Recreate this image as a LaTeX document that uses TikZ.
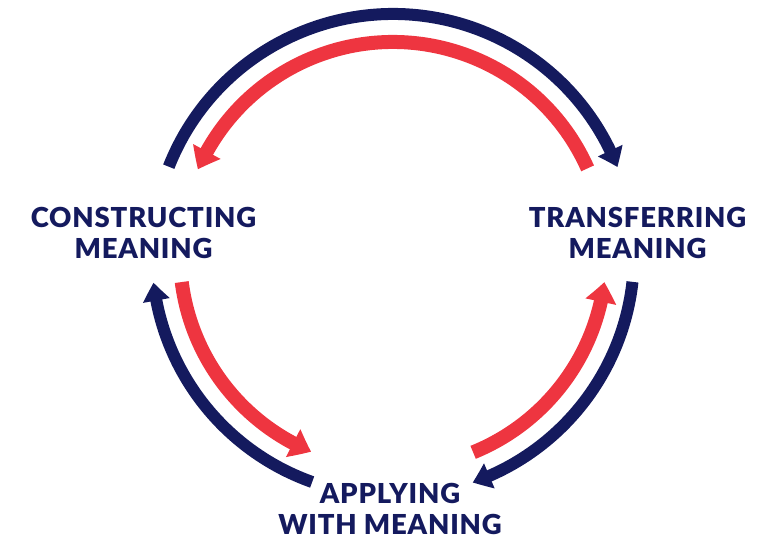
\documentclass[tikz,border=0pt]{standalone}
\usepackage{fontspec}
\setmainfont{Lato}[BoldFont={Lato Black},BoldFeatures={LetterSpace=3}]
\usetikzlibrary{arrows.meta,bending}
\definecolor{navyc}{HTML}{141A5E}
\definecolor{redc}{HTML}{EE3540}
\begin{document}
\begin{tikzpicture}[x=1pt,y=1pt,
  navyarc/.style={draw=navyc,line width=12pt,-{Triangle[length=18pt,width=26pt,bend]}},
  redarc/.style={draw=redc,line width=14pt,-{Triangle[length=20pt,width=30pt,bend]}},
  lbl/.style={text=navyc,font=\fontsize{27.5}{31}\selectfont\bfseries,align=center,inner sep=0pt}]
\useasboundingbox (0,0) rectangle (761,540);
\coordinate (c) at (393,285);
\node[lbl] (cm) at (143.5,307.5) {CONSTRUCTING\\MEANING};
\node[lbl] (tm) at (637.5,307.5) {TRANSFERRING\\MEANING};
\node[lbl] (am) at (390,31.5) {APPLYING\\WITH MEANING};
% top
\draw[navyarc] (c) ++(158.5:241) arc[start angle=158.5,end angle=21.4,radius=241];
\draw[redarc] (c) ++(24:213) arc[start angle=24,end angle=156.3,radius=213];
% bottom left
\draw[navyarc] (c) ++(250.4:241) arc[start angle=250.4,end angle=186.6,radius=241];
\draw[redarc] (c) ++(187.3:213) arc[start angle=187.3,end angle=247.4,radius=213];
% bottom right
\draw[navyarc] (c) ++(-6.4:241) arc[start angle=-6.4,end angle=-70.7,radius=241];
\draw[redarc] (c) ++(-67.9:213) arc[start angle=-67.9,end angle=-7.3,radius=213];
\end{tikzpicture}
\end{document}
